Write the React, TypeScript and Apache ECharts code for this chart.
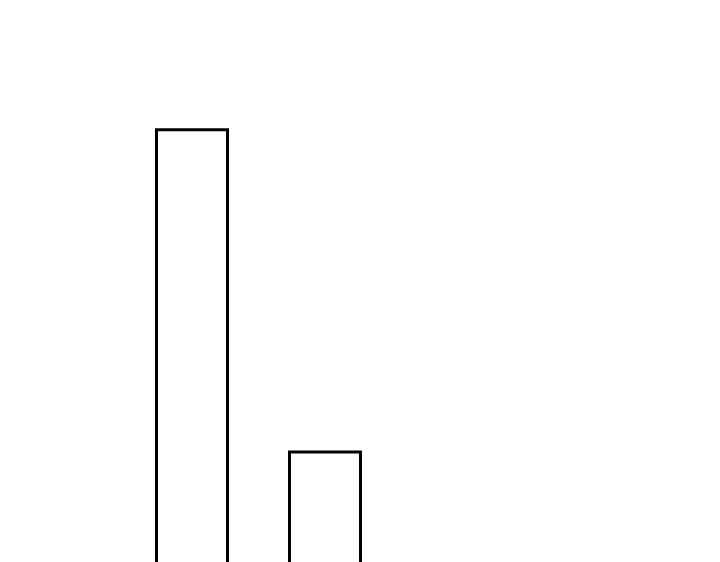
import { useEffect, useRef } from 'react';
import * as echarts from 'echarts';

const categories = ['A', 'B', 'C', 'D'];
const values = [25, 12, null, null];
const yMax = 28;

function App() {
  const chartRef = useRef<HTMLDivElement>(null);

  useEffect(() => {
    if (!chartRef.current) return;
    const chart = echarts.init(chartRef.current, null, { renderer: 'svg' });
    chart.setOption({
      animation: false,
      grid: { left: 117.5, width: 532, top: 46, height: 693.9 },
      xAxis: {
        type: 'category',
        data: categories,
        show: false,
      },
      yAxis: {
        type: 'value',
        min: 0,
        max: yMax,
        show: false,
      },
      series: [
        {
          type: 'bar',
          data: values,
          barWidth: 74,
          itemStyle: { color: '#ffffff', borderColor: '#000000', borderWidth: 3 },
        },
      ],
    });
    return () => chart.dispose();
  }, []);

  return (
    <div
      style={{
        position: 'fixed',
        top: '8px',
        left: '8px',
        width: '704px',
        height: '554px',
        overflow: 'hidden',
      }}
    >
      <div ref={chartRef} style={{ width: '704px', height: '800px' }} />
    </div>
  );
}

export default App;
